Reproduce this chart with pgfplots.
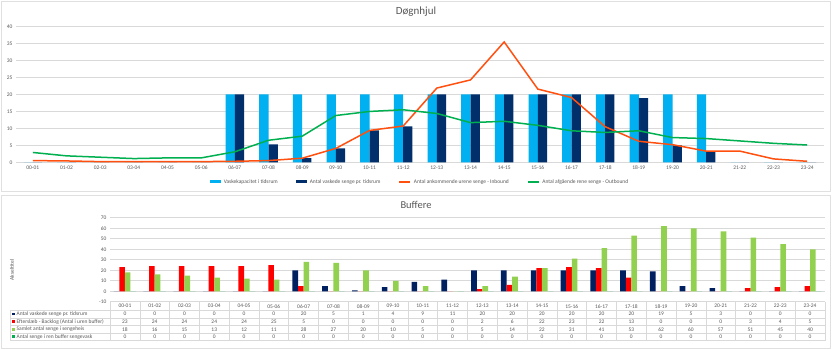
\documentclass[border=0pt]{standalone}
\usepackage{pgfplots}
\pgfplotsset{compat=1.18}
\usepackage{pgfplotstable}
\usepackage{fontspec}
\setmainfont{Carlito}
\definecolor{lblue}{HTML}{00B0F0}
\definecolor{dblue}{HTML}{002F6C}
\definecolor{orng}{HTML}{FF5010}
\definecolor{grn}{HTML}{00B050}
\definecolor{navy}{HTML}{002060}
\definecolor{lgrn}{HTML}{92D050}
\definecolor{txt}{HTML}{595959}
\definecolor{grd}{HTML}{D9D9D9}
\definecolor{frm}{HTML}{E0E0E0}

\pgfplotstableread{
idx cat kap vask inb outb
0 00-01 0 0 0.5 2.9
1 01-02 0 0 0.4 1.9
2 02-03 0 0 0.2 1.5
3 03-04 0 0 0.2 1.1
4 04-05 0 0 0.2 1.3
5 05-06 0 0 0.2 1.3
6 06-07 20 20 0.3 3.1
7 07-08 20 5.3 0.5 6.5
8 08-09 20 1.2 1.2 7.7
9 09-10 20 4.1 4.1 13.8
10 10-11 20 9.4 9.4 15.0
11 11-12 20 10.6 10.7 15.5
12 12-13 20 20 21.9 14.4
13 13-14 20 20 24.3 11.7
14 14-15 20 20 35.5 12.1
15 15-16 20 20 21.6 10.9
16 16-17 20 20 19.1 9.3
17 17-18 20 20 10.5 8.8
18 18-19 20 18.9 6.2 9.3
19 19-20 20 5.0 5.2 7.3
20 20-21 20 3.3 3.3 7.0
21 21-22 0 0 3.3 6.3
22 22-23 0 0 1.0 5.6
23 23-24 0 0 0.3 5.1
}\dogn

\pgfplotstableread{
idx cat vask efter samlet ren
0 00-01 0 23 18 0
1 01-02 0 24 16 0
2 02-03 0 24 15 0
3 03-04 0 24 13 0
4 04-05 0 24 12 0
5 05-06 0 25 11 0
6 06-07 20 5 28 0
7 07-08 5 0 27 0
8 08-09 1 0 20 0
9 09-10 4 0 10 0
10 10-11 9 0 5 0
11 11-12 11 0 0 0
12 12-13 20 2 5 0
13 13-14 20 6 14 0
14 14-15 20 22 22 0
15 15-16 20 23 31 0
16 16-17 20 22 41 0
17 17-18 20 13 53 0
18 18-19 19 0 62 0
19 19-20 5 0 60 0
20 20-21 3 0 57 0
21 21-22 0 3 51 0
22 22-23 0 4 45 0
23 23-24 0 5 40 0
}\buf

\newcommand{\sm}{\fontsize{5.5}{6.5}\selectfont}

\begin{document}
\begin{tikzpicture}
% canvas and panel frames
\fill[white] (0bp,0bp) rectangle (832bp,350bp);
\draw[frm, line width=0.8bp] (1bp,349bp) rectangle (830bp,159bp);
\draw[frm, line width=0.8bp] (1bp,155bp) rectangle (830bp,2bp);

% ---------------- Top chart ----------------
\begin{axis}[
  at={(16bp,187.7bp)}, anchor=south west,
  scale only axis, width=808bp, height=135.6bp,
  xmin=-0.5, xmax=23.5, ymin=0, ymax=40,
  xtick={0,...,23}, xticklabels from table={\dogn}{cat},
  ytick={0,5,...,40},
  ymajorgrids, major grid style={grd, line width=0.6bp},
  axis line style={draw=none},
  tick style={draw=none},
  tick label style={font=\sm, text=txt},
  /pgf/number format/assume math mode=true,
  legend columns=4,
  legend style={at={(0.5,-0.145)}, anchor=center, draw=none, fill=none,
    font=\sm, text=txt, inner sep=0pt,
    /tikz/every odd column/.append style={column sep=1bp},
    /tikz/every even column/.append style={column sep=16bp}},
]
\addplot[ybar, bar width=9.3bp, bar shift=-4.65bp, fill=lblue, draw=none,
  legend image code/.code={\fill[lblue] (0bp,-1.5bp) rectangle (11bp,1.5bp);}]
  table[x=idx,y=kap]{\dogn};
\addlegendentry{Vaskekapacitet i tidsrum}
\addplot[ybar, bar width=9.3bp, bar shift=4.65bp, fill=dblue, draw=none,
  legend image code/.code={\fill[dblue] (0bp,-1.5bp) rectangle (11bp,1.5bp);}]
  table[x=idx,y=vask]{\dogn};
\addlegendentry{Antal vaskede senge pr. tidsrum}
\addplot[sharp plot, no marks, orng, line width=1.5bp,
  legend image code/.code={\draw[orng, line width=1.5bp] (0bp,0bp) -- (11bp,0bp);}]
  table[x=idx,y=inb]{\dogn};
\addlegendentry{Antal ankommende urene senge - Inbound}
\addplot[sharp plot, no marks, grn, line width=1.5bp,
  legend image code/.code={\draw[grn, line width=1.5bp] (0bp,0bp) -- (11bp,0bp);}]
  table[x=idx,y=outb]{\dogn};
\addlegendentry{Antal afgående rene senge - Outbound}
\end{axis}
\node[font=\fontsize{11}{13}\selectfont, text=txt] at (416bp,338bp) {Døgnhjul};

% ---------------- Bottom chart ----------------
\begin{axis}[
  at={(110bp,48.2bp)}, anchor=south west,
  scale only axis, width=715bp, height=84bp,
  xmin=-0.5, xmax=23.5, ymin=-10, ymax=70,
  xtick=\empty,
  ytick={-10,0,...,70},
  ymajorgrids, major grid style={grd, line width=0.6bp},
  axis line style={draw=none},
  tick style={draw=none},
  tick label style={font=\sm, text=txt},
  /pgf/number format/assume math mode=true,
]
\addplot[ybar, bar width=5.6bp, bar shift=-8.4bp, fill=navy, draw=none] table[x=idx,y=vask]{\buf};
\addplot[ybar, bar width=5.6bp, bar shift=-2.8bp, fill=red, draw=none] table[x=idx,y=efter]{\buf};
\addplot[ybar, bar width=5.6bp, bar shift=2.8bp, fill=lgrn, draw=none] table[x=idx,y=samlet]{\buf};
\addplot[ybar, bar width=5.6bp, bar shift=8.4bp, fill=grn, draw=none] table[x=idx,y=ren]{\buf};
\end{axis}
\node[font=\fontsize{10.5}{12}\selectfont, text=txt] at (416bp,145bp) {Buffere};
\node[font=\sm, text=txt, rotate=90] at (12bp,80bp) {Akseltitel};

% data table
\foreach \yy in {39.7,32.2,24.5,17,9.3} {
  \draw[grd, line width=0.5bp] (10bp,\yy bp) -- (825bp,\yy bp);
}
\draw[grd, line width=0.5bp] (10bp,39.7bp) -- (10bp,9.3bp);
\foreach \i in {0,...,24} {
  \pgfmathsetmacro\vx{110+\i*29.79}
  \draw[grd, line width=0.5bp] (\vx bp,48bp) -- (\vx bp,9.3bp);
}
\foreach \i in {0,...,23} {
  \pgfmathsetmacro\cx{110+(\i+0.5)*29.79}
  \pgfplotstablegetelem{\i}{cat}\of\buf \let\vc\pgfplotsretval
  \node[font=\sm, text=txt] at (\cx bp,43.8bp) {\vc};
  \pgfplotstablegetelem{\i}{vask}\of\buf \let\va\pgfplotsretval
  \node[font=\sm, text=txt] at (\cx bp,36bp) {\va};
  \pgfplotstablegetelem{\i}{efter}\of\buf \let\vb\pgfplotsretval
  \node[font=\sm, text=txt] at (\cx bp,28.3bp) {\vb};
  \pgfplotstablegetelem{\i}{samlet}\of\buf \let\vd\pgfplotsretval
  \node[font=\sm, text=txt] at (\cx bp,20.7bp) {\vd};
  \pgfplotstablegetelem{\i}{ren}\of\buf \let\ve\pgfplotsretval
  \node[font=\sm, text=txt] at (\cx bp,13.2bp) {\ve};
}
\fill[navy] (12bp,34.7bp) rectangle (14.6bp,37.3bp);
\fill[red] (12bp,27bp) rectangle (14.6bp,29.6bp);
\fill[lgrn] (12bp,19.4bp) rectangle (14.6bp,22bp);
\fill[grn] (12bp,11.9bp) rectangle (14.6bp,14.5bp);
\node[font=\sm, text=txt, anchor=west, inner sep=0pt] at (16.5bp,36bp) {Antal vaskede senge pr. tidsrum};
\node[font=\sm, text=txt, anchor=west, inner sep=0pt] at (16.5bp,28.3bp) {Efterslæb - Backlog (Antal i uren buffer)};
\node[font=\sm, text=txt, anchor=west, inner sep=0pt] at (16.5bp,20.7bp) {Samlet antal senge i sengeheis};
\node[font=\sm, text=txt, anchor=west, inner sep=0pt] at (16.5bp,13.2bp) {Antal senge i ren buffer sengevask};
\end{tikzpicture}
\end{document}
